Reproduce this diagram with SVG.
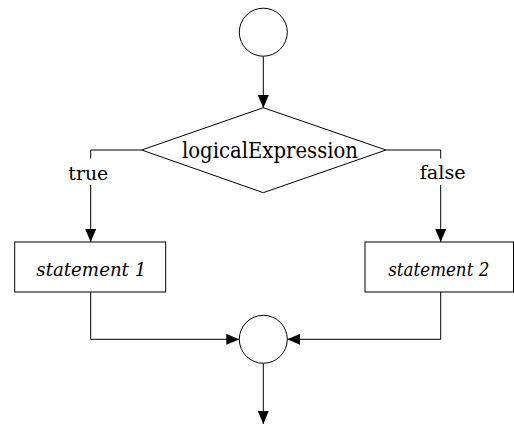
<svg xmlns="http://www.w3.org/2000/svg" width="514" height="425" viewBox="0 0 514 425">
<defs>
<style>
.shape{fill:#fff;stroke:#000;stroke-width:1}
.conn{fill:none;stroke:#000;stroke-width:1}
.lbl{font-family:"DejaVu Serif","Liberation Serif",serif;fill:#000}
.it{font-style:italic}
</style>
<marker id="ah" markerUnits="userSpaceOnUse" markerWidth="13" markerHeight="11" refX="13" refY="5.5" orient="auto">
<path d="M0,0 L13,5.5 L0,11 z" fill="#000"/>
</marker>
</defs>
<rect width="514" height="425" fill="#fff"/>
<g id="connectors">
<path class="conn" d="M263.3,56.2 V108" marker-end="url(#ah)"/>
<path class="conn" d="M141.7,150 H90.7 V158.5 M90.7,185 V242" marker-end="url(#ah)"/>
<path class="conn" d="M386,150 H440.7 V158.5 M440.7,185 V242" marker-end="url(#ah)"/>
<path class="conn" d="M90.7,292 V339.3 H239.3" marker-end="url(#ah)"/>
<path class="conn" d="M440.7,292 V339.3 H287.3" marker-end="url(#ah)"/>
<path class="conn" d="M263.3,363.3 V424" marker-end="url(#ah)"/>
</g>
<g id="start">
<circle class="shape" cx="263.3" cy="32.2" r="24"/>
</g>
<g id="decision">
<polygon class="shape" points="141.7,150 263.3,107.7 386,150 263.3,192.7"/>
<text class="lbl" x="270" y="158" font-size="22" text-anchor="middle" textLength="176" lengthAdjust="spacingAndGlyphs">logicalExpression</text>
</g>
<g id="label-true">
<text class="lbl" x="88.3" y="179.5" font-size="18.5" text-anchor="middle" textLength="40" lengthAdjust="spacingAndGlyphs">true</text>
</g>
<g id="label-false">
<text class="lbl" x="442.7" y="178.5" font-size="18.5" text-anchor="middle" textLength="46" lengthAdjust="spacingAndGlyphs">false</text>
</g>
<g id="statement1">
<rect class="shape" x="14.7" y="242" width="151" height="50"/>
<text class="lbl it" x="91.3" y="275.5" font-size="18.5" text-anchor="middle" textLength="110" lengthAdjust="spacingAndGlyphs">statement 1</text>
</g>
<g id="statement2">
<rect class="shape" x="365" y="242" width="148.5" height="50"/>
<text class="lbl it" x="438.8" y="275.5" font-size="18.5" text-anchor="middle" textLength="101" lengthAdjust="spacingAndGlyphs">statement 2</text>
</g>
<g id="join">
<circle class="shape" cx="263.3" cy="339.3" r="24"/>
</g>
</svg>
